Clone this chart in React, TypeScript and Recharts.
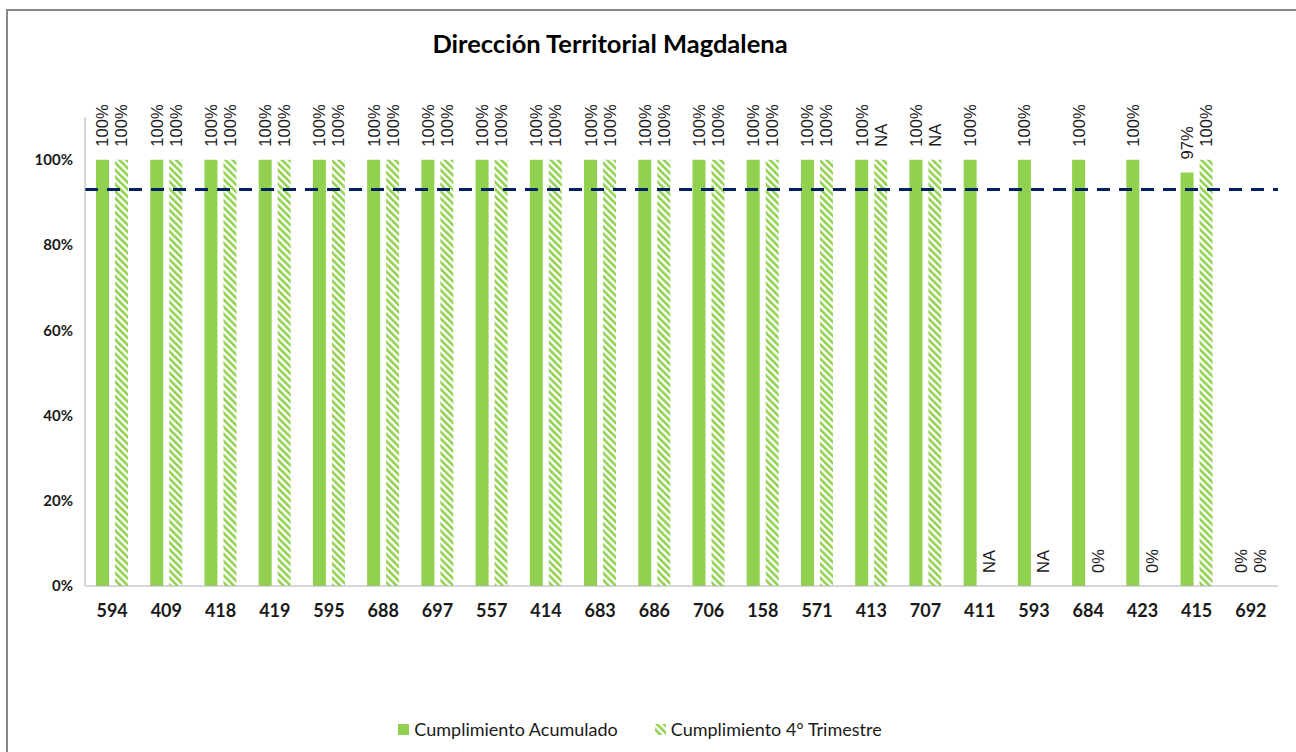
import { BarChart, Bar, XAxis, YAxis, ReferenceLine, LabelList, Legend } from 'recharts';

const categories = ['594', '409', '418', '419', '595', '688', '697', '557', '414', '683', '686', '706', '158', '571', '413', '707', '411', '593', '684', '423', '415', '692'];
const acumulado = [1, 1, 1, 1, 1, 1, 1, 1, 1, 1, 1, 1, 1, 1, 1, 1, 1, 1, 1, 1, 0.97, 0];
const acumuladoLabels = ['100%', '100%', '100%', '100%', '100%', '100%', '100%', '100%', '100%', '100%', '100%', '100%', '100%', '100%', '100%', '100%', '100%', '100%', '100%', '100%', '97%', '0%'];
const trimestre = [1, 1, 1, 1, 1, 1, 1, 1, 1, 1, 1, 1, 1, 1, 1, 1, 0, 0, 0, 0, 1, 0];
const trimestreLabels = ['100%', '100%', '100%', '100%', '100%', '100%', '100%', '100%', '100%', '100%', '100%', '100%', '100%', '100%', 'NA', 'NA', 'NA', 'NA', '0%', '0%', '100%', '0%'];
const yTicks = [0, 0.2, 0.4, 0.6, 0.8, 1];
const meta = 0.93;

const data = categories.map((c, i) => ({
  cat: c,
  acum: acumulado[i],
  trim: trimestre[i],
  acumLabel: acumuladoLabels[i],
  trimLabel: trimestreLabels[i],
}));

const GREEN = '#92D050';
const FONT = 'Lato, "Open Sans", sans-serif';

function BarValueLabel(props: any) {
  const { x, y, width, value } = props;
  const cx = x + width / 2;
  const ty = y - 13;
  return (
    <text
      x={cx}
      y={ty}
      transform={`rotate(-90, ${cx}, ${ty})`}
      textAnchor="start"
      dominantBaseline="central"
      style={{ fontSize: 16.5, fontFamily: '"Liberation Sans", Arial, sans-serif', fill: '#1a1a1a' }}
    >
      {value}
    </text>
  );
}

function LegendContent() {
  return (
    <div style={{ display: 'flex', justifyContent: 'center', gap: 37, fontFamily: FONT, fontSize: 18, color: '#1a1a1a', paddingRight: 23 }}>
      <span style={{ display: 'flex', alignItems: 'center' }}>
        <svg width={11} height={11} style={{ marginRight: 5 }}>
          <rect width={11} height={11} fill={GREEN} />
        </svg>
        Cumplimiento Acumulado
      </span>
      <span style={{ display: 'flex', alignItems: 'center' }}>
        <svg width={11} height={11} style={{ marginRight: 5 }}>
          <rect width={11} height={11} fill="url(#hatchGreen)" />
        </svg>
        Cumplimiento 4° Trimestre
      </span>
    </div>
  );
}

export default function App() {
  return (
    <div style={{ position: 'absolute', left: 0, top: 0, width: 1296, height: 752, background: '#fff', overflow: 'hidden' }}>
      <div style={{ position: 'absolute', left: 6, top: 9, width: 1400, height: 800, borderLeft: '2px solid #878787', borderTop: '2px solid #878787' }} />
      <div style={{ position: 'absolute', left: 0, top: 28, width: 1220, textAlign: 'center', fontFamily: FONT, fontWeight: 700, fontSize: 25.5, color: '#000' }}>
        Dirección Territorial Magdalena
      </div>
      <div style={{ position: 'absolute', left: 0, top: 0 }}>
        <BarChart width={1296} height={752} data={data} margin={{ top: 117, right: 18, left: 25, bottom: 12 }} barSize={13} barGap={6}>
          <defs>
            <pattern id="hatchGreen" patternUnits="userSpaceOnUse" width={5} height={5} patternTransform="rotate(-45)">
              <rect width={5} height={5} fill="#fff" />
              <rect width={2.6} height={5} fill={GREEN} />
            </pattern>
          </defs>
          <XAxis
            dataKey="cat"
            height={132}
            tickLine={false}
            axisLine={{ stroke: '#b0b0b0' }}
            tick={{ fontSize: 18, fontWeight: 700, fill: '#1a1a1a', fontFamily: FONT }}
            tickMargin={12}
            interval={0}
          />
          <YAxis
            domain={[0, 1.1]}
            ticks={yTicks}
            width={60}
            tickLine={false}
            axisLine={{ stroke: '#b0b0b0' }}
            tickFormatter={(v) => `${Math.round(v * 100)}%`}
            tick={{ fontSize: 15, fontWeight: 700, fill: '#1a1a1a', fontFamily: FONT }}
            tickMargin={6}
          />
          <Legend verticalAlign="bottom" content={<LegendContent />} />
          <Bar dataKey="acum" name="Cumplimiento Acumulado" fill={GREEN} minPointSize={0.01} isAnimationActive={false}>
            <LabelList dataKey="acumLabel" content={<BarValueLabel />} />
          </Bar>
          <Bar dataKey="trim" name="Cumplimiento 4° Trimestre" fill="url(#hatchGreen)" minPointSize={0.01} isAnimationActive={false}>
            <LabelList dataKey="trimLabel" content={<BarValueLabel />} />
          </Bar>
          <ReferenceLine y={meta} stroke="#002060" strokeWidth={3} strokeDasharray="13 9" />
        </BarChart>
      </div>
    </div>
  );
}
